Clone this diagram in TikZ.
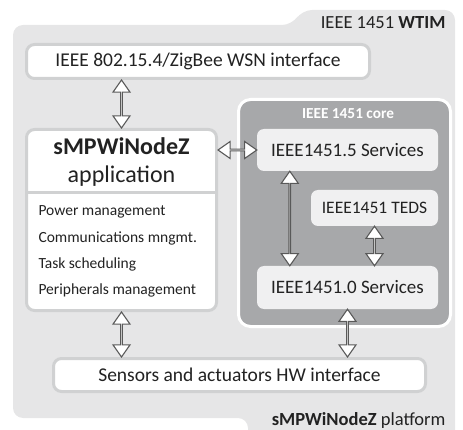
\documentclass[tikz,border=0pt]{standalone}
\usepackage{fontspec}
\setmainfont{Carlito}
\usetikzlibrary{calc,shapes.arrows}

\begin{document}
\begin{tikzpicture}[x=1pt,y=-1pt,
    box/.style={draw=edgegray, line width=3pt, fill=white, rounded corners=8pt, inner sep=0pt, text=textgray},
    svc/.style={fill=svcgray, rounded corners=7pt, inner sep=0pt, text=textgray},
    link/.style={double arrow, draw=arrowgray, fill=white, line width=1.1pt, inner sep=0pt,
        minimum width=17pt, double arrow head extend=5pt, double arrow tip angle=70},
    big/.style={font=\fontsize{19.5}{21}\selectfont}]
    \definecolor{wtimgray}{HTML}{E6E6E7}
    \definecolor{edgegray}{HTML}{D0D1D2}
    \definecolor{svcgray}{HTML}{F0F0F1}
    \definecolor{coregray}{HTML}{A7A8AA}
    \definecolor{textgray}{HTML}{222222}
    \definecolor{arrowgray}{HTML}{595959}
    \def\dlink#1#2{\path let \p1=(#1), \p2=(#2), \n1={veclen(\x2-\x1,\y2-\y1)},
        \n2={atan2(\y2-\y1,\x2-\x1)} in node[link, minimum height=\n1, rotate=\n2] at ($(\p1)!.5!(\p2)$) {};}
    \useasboundingbox (0,0) rectangle (463,430);
    \clip (0,0) rectangle (463,430);
    % platform and WTIM outline
    \fill[wtimgray, rounded corners=10pt] (13,418) -- (13,25) -- (292,25) -- (302,10) -- (455,10)
        -- (455,445) -- (248,445) -- (248,418) -- cycle;
    \node[text=textgray, anchor=east, font=\fontsize{18.5}{20}\selectfont] (wtim) at (449,23) {IEEE 1451 \textbf{WTIM}};
    \node[text=textgray, anchor=base east, font=\fontsize{18.5}{20}\selectfont] (platform) at (449,425) {\textbf{sMPWiNodeZ} platform};

    \node[box, big, minimum width=343pt, minimum height=34pt] (wsn) at (198,61.5) {IEEE 802.15.4/ZigBee WSN interface};
    \node[box, minimum width=190pt, minimum height=181pt] (app) at (121.5,220) {};
    \node[text=textgray, align=center, font=\fontsize{24}{28}\selectfont] (apptitle) at (121.5,162) {\textbf{sMPWiNodeZ}\\application};
    \coordinate (sep) at (0,193);
    \draw[edgegray, line width=3pt] (app.west |- sep) -- (app.east |- sep);
    \foreach \t [count=\i] in {Power management, Communications mngmt., Task scheduling, Peripherals management}
        \node[text=textgray, anchor=base west, font=\fontsize{15.5}{18}\selectfont] (task\i) at (35,{189.7+26.3*\i}) {\t};

    % 1451 core
    \node[fill=coregray, draw=white, line width=3pt, rounded corners=12pt, minimum width=212pt, minimum height=227pt] (core) at (344.5,213) {};
    \node[text=white, font=\bfseries\fontsize{15.3}{17}\selectfont] (corelbl) at (348,114) {IEEE 1451 core};
    \node[svc, minimum width=181pt, minimum height=42pt, font=\fontsize{19}{21}\selectfont] (sfive) at (347.5,150) {IEEE1451.5 Services};
    \node[svc, minimum width=127pt, minimum height=36pt, font=\fontsize{17.5}{19}\selectfont] (teds) at (374.5,208) {IEEE1451 TEDS};
    \node[svc, minimum width=181pt, minimum height=43pt, font=\fontsize{19}{21}\selectfont] (szero) at (347.5,287.5) {IEEE1451.0 Services};

    \node[box, big, minimum width=372pt, minimum height=33pt] (sens) at (239.5,375) {Sensors and actuators HW interface};

    \coordinate (sfivefoot) at ($(sfive.south west)+(33,0)$);
    \dlink{app.north}{app.north |- wsn.south}
    \dlink{app.east |- sfive.west}{sfive.west}
    \dlink{sfivefoot}{sfivefoot |- szero.north}
    \dlink{teds.south}{teds.south |- szero.north}
    \dlink{app.south}{app.south |- sens.north}
    \dlink{szero.south}{szero.south |- sens.north}
\end{tikzpicture}
\end{document}
